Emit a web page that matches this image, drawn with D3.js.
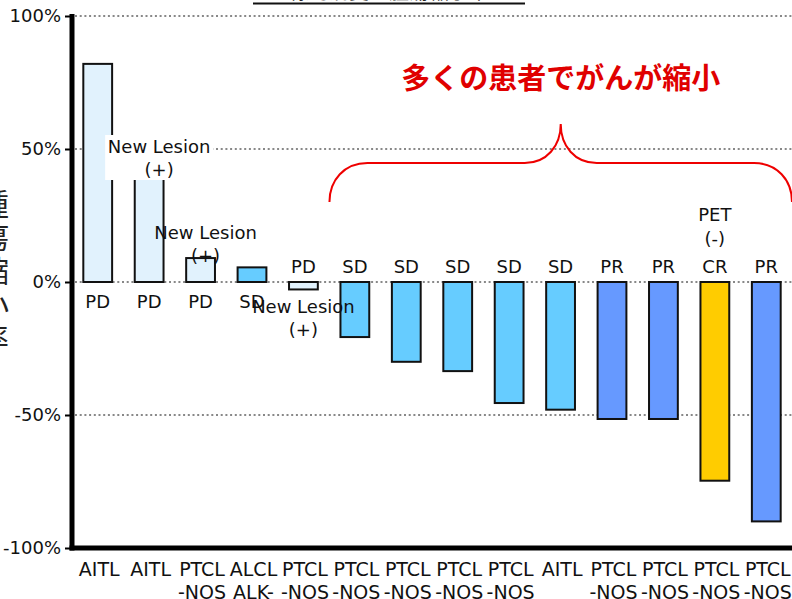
<!DOCTYPE html>
<html>
<head>
<meta charset="utf-8">
<script src="https://cdn.jsdelivr.net/npm/d3@7"></script>
<style>
  html, body { margin: 0; padding: 0; background: #fff; }
  svg { display: block; }
</style>
</head>
<body>
<svg id="chart" width="792" height="599"></svg>
<script>
// Waterfall of best change in tumour size per patient
const histology = ["AITL", "AITL", "PTCL\n-NOS", "ALCL\nALK-", "PTCL\n-NOS", "PTCL\n-NOS", "PTCL\n-NOS",
                   "PTCL\n-NOS", "PTCL\n-NOS", "AITL", "PTCL\n-NOS", "PTCL\n-NOS", "PTCL\n-NOS", "PTCL\n-NOS"];
const change    = [82, 48, 9, 5.5, -2.8, -20.7, -30, -33.5, -45.5, -48, -51.5, -51.5, -74.7, -90];
const response  = ["PD", "PD", "PD", "SD", "PD", "SD", "SD", "SD", "SD", "SD", "PR", "PR", "CR", "PR"];
const yTicks    = [100, 50, 0, -50, -100];
const gridTicks = [100, 50, 0, -50];
// patients with a new lesion, and the PET note on the CR patient
const newLesionIdx = [1, 2, 4];
const petIdx = 12;

const responseColor = { PD: "#E1F2FD", SD: "#66CCFF", PR: "#6699FF", CR: "#FFCC00" };
const FONT = "'DejaVu Sans', Verdana, sans-serif";
const JP = "'Noto Sans CJK JP', sans-serif";

const svg = d3.select("#chart");
const plotL = 72, plotR = 792, plotT = 16, plotB = 548;

const x = d3.scaleBand().domain(d3.range(change.length)).range([plotL, plotR])
  .paddingInner(0.44).paddingOuter(0.22);
const y = d3.scaleLinear().domain([-100, 100]).range([plotB, plotT]);

// title (runs off the top edge) with underline
svg.append("text").attr("x", 389).attr("y", -1).attr("text-anchor", "middle")
  .attr("font-family", JP).attr("font-size", 20).attr("fill", "#222")
  .text("標的病変の腫瘍縮小率");
svg.append("line").attr("x1", 253).attr("x2", 525).attr("y1", 3.5).attr("y2", 3.5)
  .attr("stroke", "#111").attr("stroke-width", 2);

// y axis title, vertical, clipped at the left edge
const yTitle = "腫瘍縮小率".split("");
svg.append("g").selectAll("text").data(yTitle).join("text")
  .attr("x", -6).attr("y", (d, i) => 204 + i * 33.5)
  .attr("dy", "0.36em").attr("text-anchor", "middle")
  .attr("font-family", JP).attr("font-size", 30).attr("fill", "#222")
  .text(d => d);

// dotted grid lines
svg.append("g").selectAll("line").data(gridTicks).join("line")
  .attr("x1", plotL + 3).attr("x2", plotR)
  .attr("y1", d => y(d)).attr("y2", d => y(d))
  .attr("stroke", "#888").attr("stroke-width", 2).attr("stroke-dasharray", "2,2.7");

// y axis
const yAxis = d3.axisLeft(y).tickValues(yTicks).tickFormat(d => d + "%").tickSize(7).tickPadding(4);
const gy = svg.append("g").attr("transform", `translate(${plotL},0)`).call(yAxis);
gy.select(".domain").remove();
gy.selectAll(".tick line").attr("stroke", "#000").attr("stroke-width", 2);
gy.selectAll(".tick text").attr("font-family", FONT).attr("font-size", 18).attr("fill", "#111");

// bars
svg.append("g").selectAll("rect").data(change).join("rect")
  .attr("x", (d, i) => x(i))
  .attr("width", x.bandwidth())
  .attr("y", d => y(Math.max(0, d)))
  .attr("height", d => Math.abs(y(d) - y(0)))
  .attr("fill", (d, i) => responseColor[response[i]])
  .attr("stroke", "#111").attr("stroke-width", 2);

// axis lines
svg.append("line").attr("x1", plotL).attr("x2", plotL).attr("y1", plotT - 2).attr("y2", plotB + 2.5)
  .attr("stroke", "#000").attr("stroke-width", 5);
svg.append("line").attr("x1", plotL - 2.5).attr("x2", plotR).attr("y1", plotB).attr("y2", plotB)
  .attr("stroke", "#000").attr("stroke-width", 5);

// response labels: below the baseline for growth, above it for shrinkage
svg.append("g").selectAll("text").data(change).join("text")
  .attr("x", (d, i) => x(i) + x.bandwidth() / 2)
  .attr("y", d => d > 0 ? y(0) + 26 : y(0) - 9)
  .attr("text-anchor", "middle")
  .attr("font-family", FONT).attr("font-size", 18).attr("fill", "#111")
  .text((d, i) => response[i]);

// x category labels
const gx = svg.append("g");
histology.forEach((h, i) => {
  const cx = x(i) + x.bandwidth() / 2 + 1.5;
  const t = gx.append("text")
    .attr("x", cx).attr("y", 576)
    .attr("text-anchor", "middle")
    .attr("font-family", FONT).attr("font-size", 19).attr("fill", "#111");
  h.split("\n").forEach((line, k) => {
    t.append("tspan").attr("x", cx).attr("dy", k ? 23 : 0).text(line);
  });
});

// "New Lesion (+)" notes
const lesionPos = [
  { i: newLesionIdx[0], dx: 10, yb: 153, box: true },
  { i: newLesionIdx[1], dx: 5, yb: 239, box: false },
  { i: newLesionIdx[2], dx: 0, yb: 313, box: false }
];
lesionPos.forEach(p => {
  const cx = x(p.i) + x.bandwidth() / 2 + p.dx;
  if (p.box) {
    svg.append("rect").attr("x", cx - 54).attr("y", p.yb - 18)
      .attr("width", 108).attr("height", 45).attr("fill", "#fff");
  }
  const t = svg.append("text").attr("text-anchor", "middle")
    .attr("font-family", FONT).attr("font-size", 18).attr("fill", "#111");
  t.append("tspan").attr("x", cx).attr("y", p.yb).text("New Lesion");
  t.append("tspan").attr("x", cx).attr("y", p.yb + 23).text("(+)");
});

// PET note above the CR bar
{
  const cx = x(petIdx) + x.bandwidth() / 2;
  const t = svg.append("text").attr("text-anchor", "middle")
    .attr("font-family", FONT).attr("font-size", 18).attr("fill", "#111");
  t.append("tspan").attr("x", cx).attr("y", 221).text("PET");
  t.append("tspan").attr("x", cx).attr("y", 245).text("(-)");
}

// red brace over the shrinking patients
const bx0 = x(5) - 11, bx1 = plotR, bmid = (bx0 + bx1) / 2;
const brace = d3.path();
brace.moveTo(bx0, 202);
brace.bezierCurveTo(bx0, 180, bx0 + 15, 163, bx0 + 38, 163);
brace.lineTo(bmid - 36, 163);
brace.bezierCurveTo(bmid - 14, 163, bmid, 146, bmid, 124);
brace.bezierCurveTo(bmid, 146, bmid + 14, 163, bmid + 36, 163);
brace.lineTo(bx1 - 38, 163);
brace.bezierCurveTo(bx1 - 15, 163, bx1, 180, bx1, 202);
svg.append("path").attr("d", brace.toString())
  .attr("fill", "none").attr("stroke", "#EE0000").attr("stroke-width", 2);

svg.append("text").attr("x", bmid).attr("y", 89).attr("text-anchor", "middle")
  .attr("font-family", JP).attr("font-weight", 700).attr("font-size", 29).attr("fill", "#E00000")
  .text("多くの患者でがんが縮小");
</script>
</body>
</html>
